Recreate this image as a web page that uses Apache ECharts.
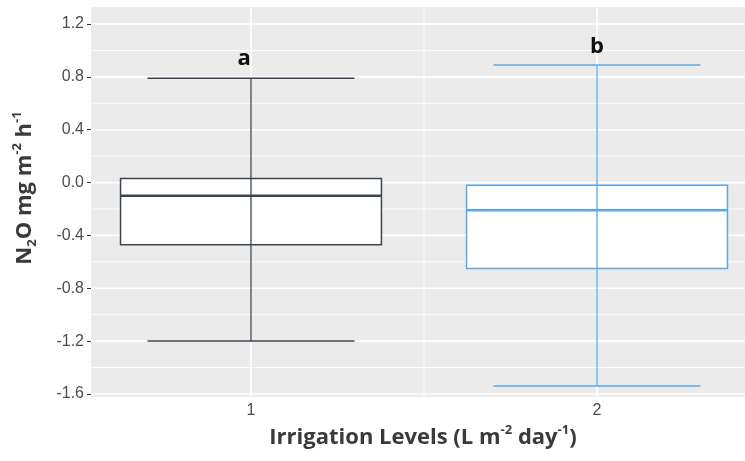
<!DOCTYPE html>
<html><head><meta charset="utf-8">
<script src="https://cdn.jsdelivr.net/npm/echarts@6/dist/echarts.min.js"></script>
<style>html,body{margin:0;padding:0;background:#fff}#c{width:745px;height:461px}</style>
</head><body><div id="c"></div>
<script>
// ---- data ----
const groups = [1, 2];
const whiskerLow = [-1.20, -1.54];
const q1 = [-0.47, -0.65];
const median = [-0.10, -0.21];
const q3 = [0.03, -0.02];
const whiskerHigh = [0.79, 0.89];
const letters = ['a', 'b'];
const letterX = [0.98, 2.0];
const letterY = [0.94, 1.03];
const yTicks = [-1.6, -1.2, -0.8, -0.4, 0.0, 0.4, 0.8, 1.2];
const yMinor = [-1.4, -1.0, -0.6, -0.2, 0.2, 0.6, 1.0];
const xTicks = [1, 2];
const xMinor = [1.5];
const xRange = [0.5376, 2.4277];
const yRange = [-1.623, 1.329];

// ---- styles ----
const boxColors = ['#3b4652', '#5aa9e6'];
const titleFont = '"Open Sans", "DejaVu Sans", sans-serif';
const tickFont = '"Liberation Sans", Arial, sans-serif';

const gridData = [];
yTicks.forEach(v => gridData.push(['h', v, 1.6]));
yMinor.forEach(v => gridData.push(['h', v, 0.9]));
xTicks.forEach(v => gridData.push(['v', v, 1.6]));
xMinor.forEach(v => gridData.push(['v', v, 0.9]));

const boxData = groups.map((g, i) => [g, whiskerLow[i], q1[i], median[i], q3[i], whiskerHigh[i]]);
const letterData = letters.map((l, i) => [letterX[i], letterY[i], l]);

const chart = echarts.init(document.getElementById('c'), null, {renderer: 'canvas'});
chart.setOption({
  animation: false,
  backgroundColor: '#ffffff',
  grid: {
    left: 91, right: 0, top: 7, bottom: 64,
    show: true, backgroundColor: '#ebebeb', borderWidth: 0,
    containLabel: false, outerBoundsMode: 'none'
  },
  xAxis: {
    type: 'value', min: xRange[0], max: xRange[1],
    axisLine: {show: false},
    splitLine: {show: false},
    axisTick: {show: true, customValues: xTicks, length: 4, lineStyle: {color: '#333', width: 1}},
    axisLabel: {customValues: xTicks, color: '#4d4d4d', fontSize: 16, fontFamily: tickFont, margin: 6},
    name: '{b|Irrigation Levels (L m}{sup|-2}{b| day}{sup|-1}{b|)}',
    nameLocation: 'middle', nameGap: 22,
    nameTextStyle: {
      padding: [0, 0, 0, 10],
      rich: {
        b: {fontSize: 22, fontWeight: 'bold', fontFamily: titleFont, color: '#3a3a3a', lineHeight: 28},
        sup: {fontSize: 13, fontWeight: 'bold', fontFamily: titleFont, color: '#3a3a3a', verticalAlign: 'top', lineHeight: 28}
      }
    }
  },
  yAxis: {
    type: 'value', min: yRange[0], max: yRange[1],
    axisLine: {show: false},
    splitLine: {show: false},
    axisTick: {show: true, customValues: yTicks, length: 4, lineStyle: {color: '#333', width: 1}},
    axisLabel: {customValues: yTicks, color: '#4d4d4d', fontSize: 16, fontFamily: tickFont, margin: 7,
      formatter: v => Number(v).toFixed(1)},
    name: '{b|N}{sub|2}{b|O mg m}{sup|-2}{b| h}{sup|-1}',
    nameLocation: 'middle', nameGap: 52, nameRotate: 90,
    nameTextStyle: {
      padding: [0, 0, 0, 28],
      rich: {
        b: {fontSize: 22, fontWeight: 'bold', fontFamily: titleFont, color: '#3a3a3a', lineHeight: 28},
        sub: {fontSize: 13, fontWeight: 'bold', fontFamily: titleFont, color: '#3a3a3a', verticalAlign: 'bottom', lineHeight: 28},
        sup: {fontSize: 13, fontWeight: 'bold', fontFamily: titleFont, color: '#3a3a3a', verticalAlign: 'top', lineHeight: 28}
      }
    }
  },
  series: [
    {
      type: 'custom', silent: true, z: 1,
      data: gridData,
      encode: {x: 1, y: 1},
      renderItem(params, api) {
        const d = gridData[params.dataIndex];
        let p1, p2;
        if (d[0] === 'h') { p1 = api.coord([xRange[0], d[1]]); p2 = api.coord([xRange[1], d[1]]); }
        else { p1 = api.coord([d[1], yRange[0]]); p2 = api.coord([d[1], yRange[1]]); }
        return {type: 'line', shape: {x1: p1[0], y1: p1[1], x2: p2[0], y2: p2[1]},
          style: {stroke: '#ffffff', lineWidth: d[2]}};
      }
    },
    {
      type: 'custom', silent: true, z: 5,
      data: boxData,
      encode: {x: 0, y: [1, 2, 3, 4, 5]},
      renderItem(params, api) {
        const x = api.value(0), lo = api.value(1), a = api.value(2), m = api.value(3), b = api.value(4), hi = api.value(5);
        const col = boxColors[params.dataIndex];
        const hw = 0.377, cw = 0.299;
        const tl = api.coord([x - hw, b]), br = api.coord([x + hw, a]);
        const pm1 = api.coord([x - hw, m]), pm2 = api.coord([x + hw, m]);
        const pLo = api.coord([x, lo]), pHi = api.coord([x, hi]);
        const c1 = api.coord([x - cw, lo]), c2 = api.coord([x + cw, lo]);
        const c3 = api.coord([x - cw, hi]), c4 = api.coord([x + cw, hi]);
        return {type: 'group', children: [
          {type: 'rect', shape: {x: tl[0], y: tl[1], width: br[0] - tl[0], height: br[1] - tl[1]},
            style: {fill: '#ffffff', stroke: col, lineWidth: 1.5}},
          {type: 'line', shape: {x1: pLo[0], y1: pLo[1], x2: pHi[0], y2: pHi[1]}, style: {stroke: col, lineWidth: 1.3}},
          {type: 'line', shape: {x1: pm1[0], y1: pm1[1], x2: pm2[0], y2: pm2[1]}, style: {stroke: col, lineWidth: 2.4}},
          {type: 'line', shape: {x1: c1[0], y1: c1[1], x2: c2[0], y2: c2[1]}, style: {stroke: col, lineWidth: 1.5}},
          {type: 'line', shape: {x1: c3[0], y1: c3[1], x2: c4[0], y2: c4[1]}, style: {stroke: col, lineWidth: 1.5}}
        ]};
      }
    },
    {
      type: 'custom', silent: true, z: 6,
      data: letterData,
      encode: {x: 0, y: 1},
      renderItem(params, api) {
        const p = api.coord([api.value(0), api.value(1)]);
        return {type: 'text', x: p[0], y: p[1],
          style: {text: letterData[params.dataIndex][2], fontSize: 22, fontWeight: 'bold', fontFamily: titleFont,
            fill: '#111', align: 'center', verticalAlign: 'middle'}};
      }
    }
  ]
});
</script>
</body></html>
